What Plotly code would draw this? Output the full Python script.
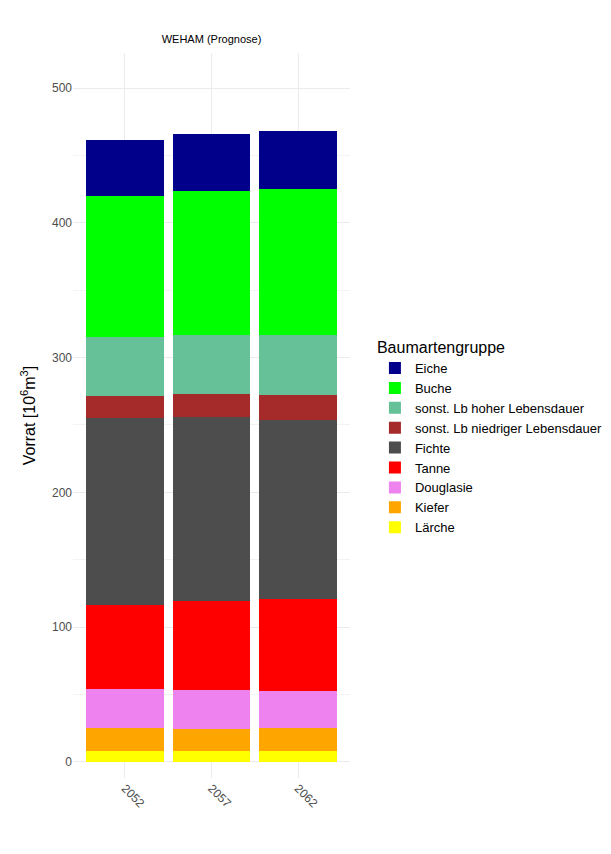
import plotly.graph_objects as go

years = ["2052", "2057", "2062"]
species = ["Lärche", "Kiefer", "Douglasie", "Tanne", "Fichte",
           "sonst. Lb niedriger Lebensdauer", "sonst. Lb hoher Lebensdauer", "Buche", "Eiche"]
colors = ["#FFFF00", "#FFA500", "#EE82EE", "#FF0000", "#4D4D4D",
          "#A52A2A", "#66C199", "#00FF00", "#00008B"]
# cumulative tops
tops = {
    "2052": [8.2, 25.2, 54.0, 116.5, 255.5, 271.5, 315.0, 420.0, 461.5],
    "2057": [8.0, 24.5, 53.4, 119.4, 256.0, 273.0, 316.8, 423.6, 466.0],
    "2062": [8.0, 25.0, 52.7, 121.0, 253.7, 272.3, 316.8, 425.0, 468.0],
}
values = {}
for y in years:
    t = tops[y]
    values[y] = [t[0]] + [t[i] - t[i - 1] for i in range(1, len(t))]

fig = go.Figure()
for i, sp in enumerate(species):
    fig.add_trace(go.Bar(x=years, y=[values[y][i] for y in years], name=sp,
                         marker=dict(color=colors[i], line=dict(width=0)), width=0.9))

fig.update_layout(
    barmode="stack", width=611, height=854, plot_bgcolor="white", paper_bgcolor="white",
    margin=dict(l=65, r=269, t=45, b=84, autoexpand=False),
    font=dict(family="Liberation Sans, Arial", color="#000"),
    title=dict(text="WEHAM (Prognose)", x=(65 + 277 / 2) / 611, xanchor="center",
               y=1 - 31 / 854, yanchor="middle", font=dict(size=11), automargin=False),
    legend=dict(title=dict(text="Baumartengruppe", font=dict(size=16)), traceorder="reversed",
                x=1.09, xanchor="left", y=0.47, yanchor="middle", font=dict(size=13),
                itemwidth=30),
    showlegend=True,
)
fig.update_xaxes(range=[-0.6, 2.6], tickangle=45, showgrid=True, gridcolor="#EBEBEB",
                 tickfont=dict(size=12, color="#4D4D4D"), ticks="", zeroline=False,
                 automargin=False)
fig.update_yaxes(range=[-12, 526], tickvals=[0, 100, 200, 300, 400, 500], showgrid=True,
                 gridcolor="#EBEBEB", zeroline=False, tickfont=dict(size=12, color="#4D4D4D"),
                 minor=dict(tickvals=[50, 150, 250, 350, 450], showgrid=True, gridcolor="#F3F3F3"),
                 automargin=False,
                 title=dict(text="Vorrat [10<sup>6</sup>m<sup>3</sup>]", font=dict(size=16), standoff=12))
fig.write_html("out.html")
